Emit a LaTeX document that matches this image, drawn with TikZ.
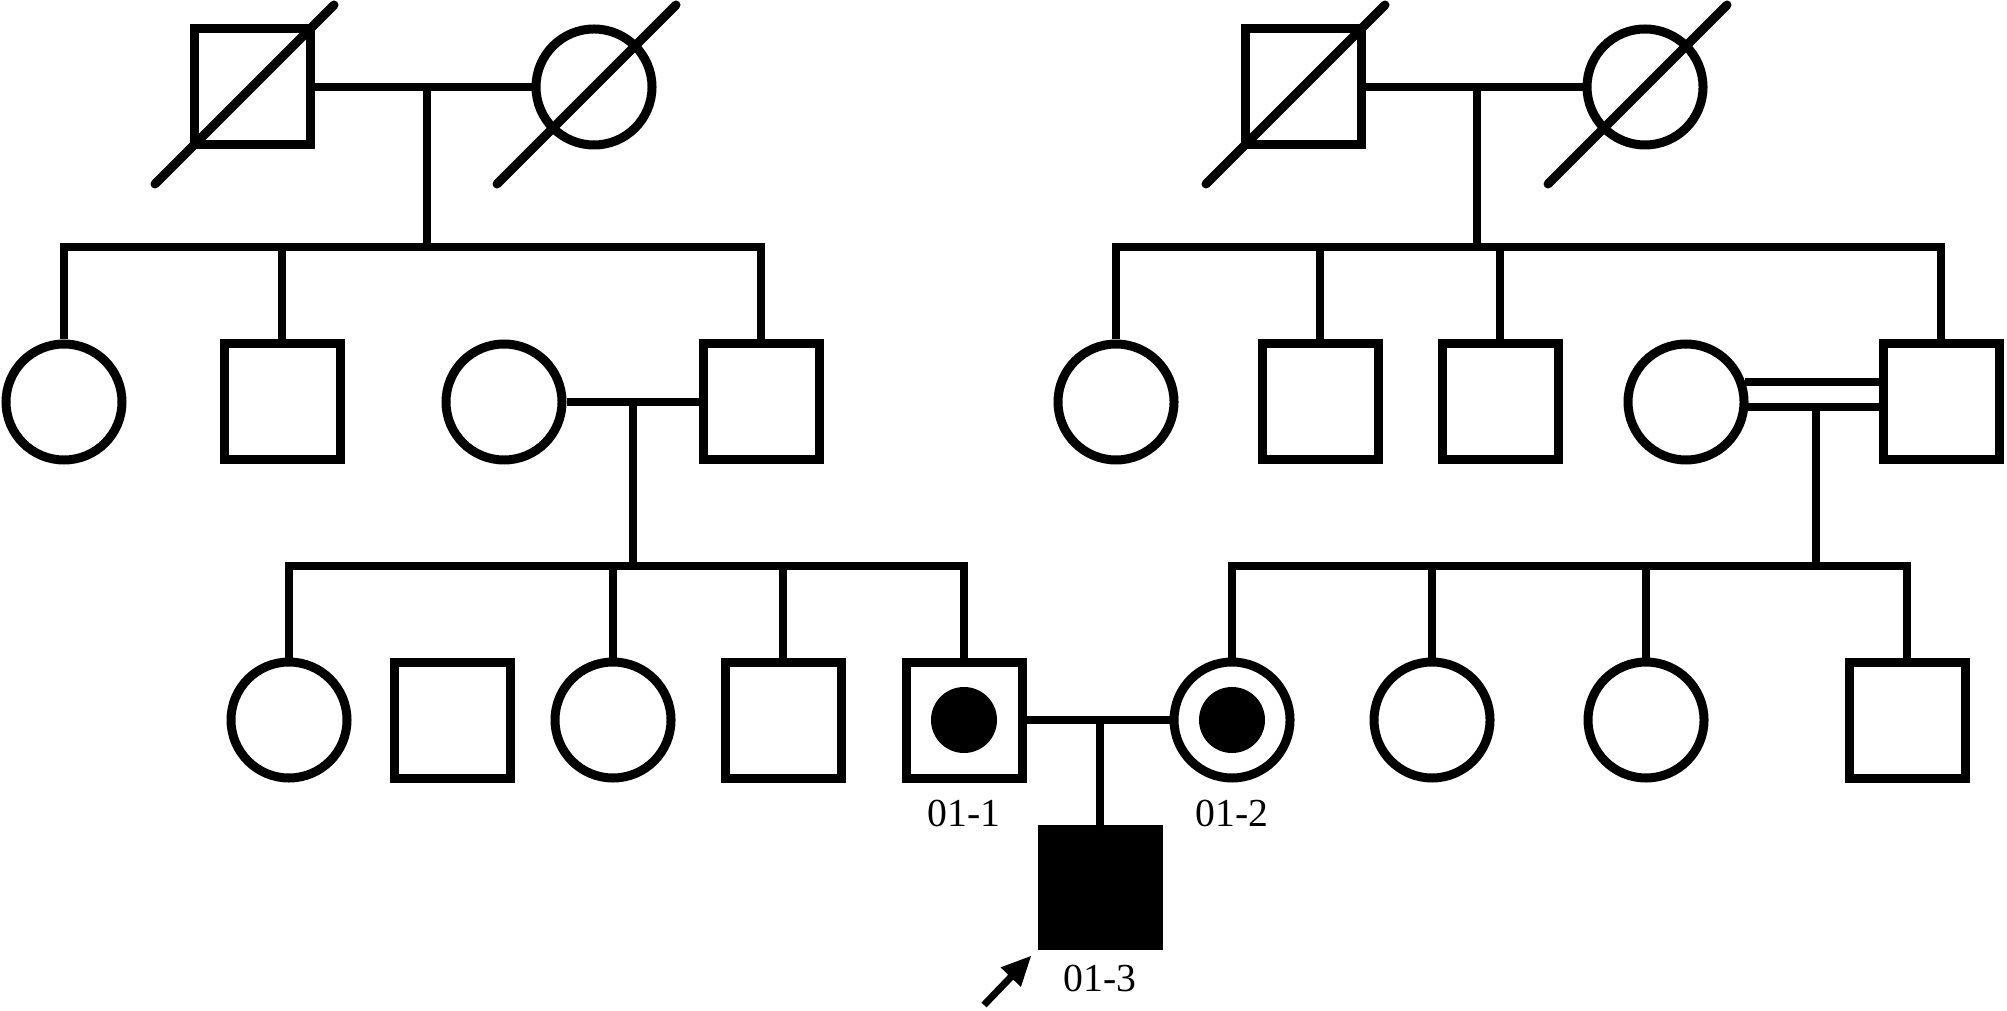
\documentclass[tikz,border=0pt]{standalone}
\usepackage{fontspec}
\setmainfont{Liberation Serif}
\usetikzlibrary{arrows.meta,positioning}
\tikzset{
    male/.style={draw, rectangle, minimum size=1.16cm, inner sep=0pt, line width=0.09cm},
    female/.style={draw, circle, minimum size=1.16cm, inner sep=0pt, line width=0.09cm},
    affected/.style={fill=black},
    carrier/.style={path picture={\fill[black] (path picture bounding box.center) circle (0.33cm);}},
    deadline/.style={line width=0.09cm, line cap=round},
    link/.style={line width=0.08cm},
    idlabel/.style={inner sep=0pt, font=\fontsize{11.3}{13}\selectfont},
    proband/.style={-{Triangle[length=0.3cm, width=0.26cm]}, line width=0.07cm}
}

\begin{document}
\begin{tikzpicture}
\useasboundingbox (0,0) rectangle (20.07,10.10);

% generation I
\node[male] (I1) at (2.52,9.23) {};
\node[female] (I2) at (5.94,9.23) {};
\node[male] (I3) at (13.03,9.23) {};
\node[female] (I4) at (16.45,9.23) {};

% generation II
\node[female] (II1) at (0.64,6.08) {};
\node[male] (II2) at (2.82,6.08) {};
\node[female] (II3) at (5.04,6.08) {};
\node[male] (II4) at (7.61,6.08) {};
\node[female] (II5) at (11.16,6.08) {};
\node[male] (II6) at (13.20,6.08) {};
\node[male] (II7) at (15.00,6.08) {};
\node[female] (II8) at (16.86,6.08) {};
\node[male] (II9) at (19.41,6.08) {};

% generation III
\node[female] (III1) at (2.89,2.90) {};
\node[male] (III2) at (4.52,2.90) {};
\node[female] (III3) at (6.13,2.90) {};
\node[male] (III4) at (7.83,2.90) {};
\node[male, carrier] (III5) at (9.64,2.90) {};
\node[female, carrier] (III6) at (12.32,2.90) {};
\node[female] (III7) at (14.32,2.90) {};
\node[female] (III8) at (16.46,2.90) {};
\node[male] (III9) at (19.07,2.90) {};

% generation IV
\node[male, affected] (IV1) at (11.00,1.23) {};

\node[idlabel, below=0.17cm of III5] (l1) {01-1};
\node[idlabel, below=0.17cm of III6] (l2) {01-2};
\node[idlabel, below=0.15cm of IV1] (l3) {01-3};

% deceased
\foreach \n in {I1,I2,I3,I4}
    \draw[deadline] ([shift={(-0.97,-0.97)}]\n.center) -- ([shift={(0.82,0.82)}]\n.center);

% matings and descent
\coordinate (m1) at (4.27,9.23);
\coordinate (s1) at (4.27,7.63);
\coordinate (m2) at (14.77,9.23);
\coordinate (s2) at (14.77,7.63);
\coordinate (m3) at (6.33,6.09);
\coordinate (s3) at (6.33,4.44);
\coordinate (m4) at (18.16,6.02);
\coordinate (s4) at (18.16,4.44);
\coordinate (m5) at (11.00,2.90);

\draw[link] (I1) -- (I2);
\draw[link] (I3) -- (I4);
\draw[link] (II3) -- (II4);
\draw[link] (II8.19) -- (II8.19 -| II9.west);
\draw[link] (II8.-5) -- (II8.-5 -| II9.west);
\draw[link] (III5) -- (III6);

\draw[link] (m1) -- (s1);
\draw[link] (m2) -- (s2);
\draw[link] (m3) -- (s3);
\draw[link] (m4) -- (s4);
\draw[link] (m5) -- (IV1);

% sibships
\draw[link] (II1.north) |- (II4.north |- s1) -- (II4.north);
\draw[link] (II2.north) -- (II2.north |- s1);
\draw[link] (II5.north) |- (II9.north |- s2) -- (II9.north);
\foreach \n in {II6,II7}
    \draw[link] (\n.north) -- (\n.north |- s2);
\draw[link] (III1.north) |- (III5.north |- s3) -- (III5.north);
\foreach \n in {III3,III4}
    \draw[link] (\n.north) -- (\n.north |- s3);
\draw[link] (III6.north) |- (III9.north |- s4) -- (III9.north);
\foreach \n in {III7,III8}
    \draw[link] (\n.north) -- (\n.north |- s4);

% proband
\coordinate (ptail) at (9.84,0.05);
\draw[proband] (ptail) -- ([shift={(-0.06,-0.06)}]IV1.south west);
\end{tikzpicture}
\end{document}
